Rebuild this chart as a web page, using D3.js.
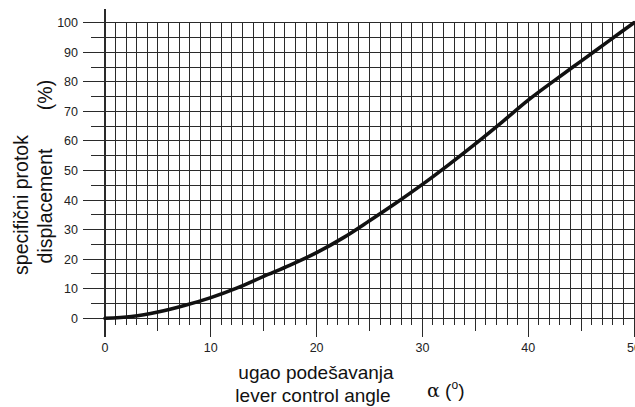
<!DOCTYPE html>
<html>
<head>
<meta charset="utf-8">
<script src="https://cdn.jsdelivr.net/npm/d3@7"></script>
<style>
  body { margin: 0; background: #fff; }
  text { font-family: "Liberation Sans", Arial, sans-serif; }
</style>
</head>
<body>
<svg id="chart" width="635" height="407"></svg>
<script>
// curve: lever angle (deg) -> displacement (%)
var angle = [0, 2.5, 5, 7.5, 10, 12.5, 15, 17.5, 20, 22.5, 25, 27.5, 30, 32.5, 35, 37.5, 40, 42.5, 45, 47.5, 50];
var displacement = [0, 0.6, 2.1, 4.3, 7.0, 10.3, 14.2, 18.0, 22.2, 27.2, 33.0, 39.0, 45.3, 52.0, 59.0, 66.3, 73.8, 80.5, 87.0, 93.5, 100];
var xTicks = [0, 10, 20, 30, 40, 50];
var yTicks = [0, 10, 20, 30, 40, 50, 60, 70, 80, 90, 100];

var margin = {top: 22.7, left: 105},
  width = 529,
  height = 295.6;

var svg = d3.select("#chart");
var g = svg.append("g").attr("transform", "translate(" + margin.left + "," + margin.top + ")");

var x = d3.scaleLinear().domain([0, 50]).range([0, width]);
var y = d3.scaleLinear().domain([0, 100]).range([height, 0]);

var gridColor = "#2a2a2a";

// vertical grid, one line per degree, running down past the baseline
g.append("g").selectAll("line")
  .data(d3.range(0, 51))
  .join("line")
  .attr("x1", d => x(d)).attr("x2", d => x(d))
  .attr("y1", d => d === 0 ? -14 : 0)
  .attr("y2", d => height + (d % 10 === 0 ? 19 : d % 5 === 0 ? 13 : 7))
  .attr("stroke", gridColor)
  .attr("stroke-width", d => d === 0 ? 1.6 : 1)
  .attr("shape-rendering", "crispEdges");

// horizontal grid every 5 %, longer stub on the left at the 10s
g.append("g").selectAll("line")
  .data(d3.range(0, 101, 5))
  .join("line")
  .attr("x1", d => d % 10 === 0 ? -22 : -14)
  .attr("x2", width)
  .attr("y1", d => y(d)).attr("y2", d => y(d))
  .attr("stroke", gridColor)
  .attr("stroke-width", 1)
  .attr("shape-rendering", "crispEdges");

// tick labels
g.append("g").selectAll("text")
  .data(yTicks)
  .join("text")
  .attr("x", -27)
  .attr("y", d => y(d))
  .attr("dy", "0.36em")
  .attr("text-anchor", "end")
  .attr("font-size", 12.5)
  .attr("fill", "#222")
  .text(d => d);

g.append("g").selectAll("text")
  .data(xTicks)
  .join("text")
  .attr("x", d => x(d))
  .attr("y", height + 34)
  .attr("text-anchor", "middle")
  .attr("font-size", 12.5)
  .attr("fill", "#222")
  .text(d => d);

// the curve
var pts = angle.map((a, i) => [a, displacement[i]]);
var line = d3.line()
  .x(d => x(d[0]))
  .y(d => y(d[1]))
  .curve(d3.curveMonotoneX);

g.append("path")
  .datum(pts)
  .attr("d", line)
  .attr("fill", "none")
  .attr("stroke", "#111")
  .attr("stroke-width", 3.6)
  .attr("stroke-linecap", "round");

// axis titles
var titleSize = 19.5;

svg.append("text")
  .attr("transform", "translate(28,205) rotate(-90)")
  .attr("text-anchor", "middle")
  .attr("font-size", titleSize)
  .attr("fill", "#111")
  .text("specifični protok");

svg.append("text")
  .attr("transform", "translate(52,206) rotate(-90)")
  .attr("text-anchor", "middle")
  .attr("font-size", titleSize)
  .attr("fill", "#111")
  .text("displacement");

svg.append("text")
  .attr("transform", "translate(52,95) rotate(-90)")
  .attr("text-anchor", "middle")
  .attr("font-size", titleSize)
  .attr("fill", "#111")
  .text("(%)");

svg.append("text")
  .attr("x", 316).attr("y", 379)
  .attr("text-anchor", "middle")
  .attr("font-size", 19)
  .attr("fill", "#111")
  .text("ugao podešavanja");

svg.append("text")
  .attr("x", 313).attr("y", 402)
  .attr("text-anchor", "middle")
  .attr("font-size", 19)
  .attr("fill", "#111")
  .text("lever control angle");

var alpha = svg.append("text")
  .attr("x", 427).attr("y", 397)
  .attr("font-size", 19)
  .attr("fill", "#111");
alpha.append("tspan").attr("font-family", "DejaVu Serif, serif").text("α");
alpha.append("tspan").text(" (");
alpha.append("tspan").attr("font-size", 12).attr("dy", -8).text("o");
alpha.append("tspan").attr("dy", 8).text(")");
</script>
</body>
</html>
